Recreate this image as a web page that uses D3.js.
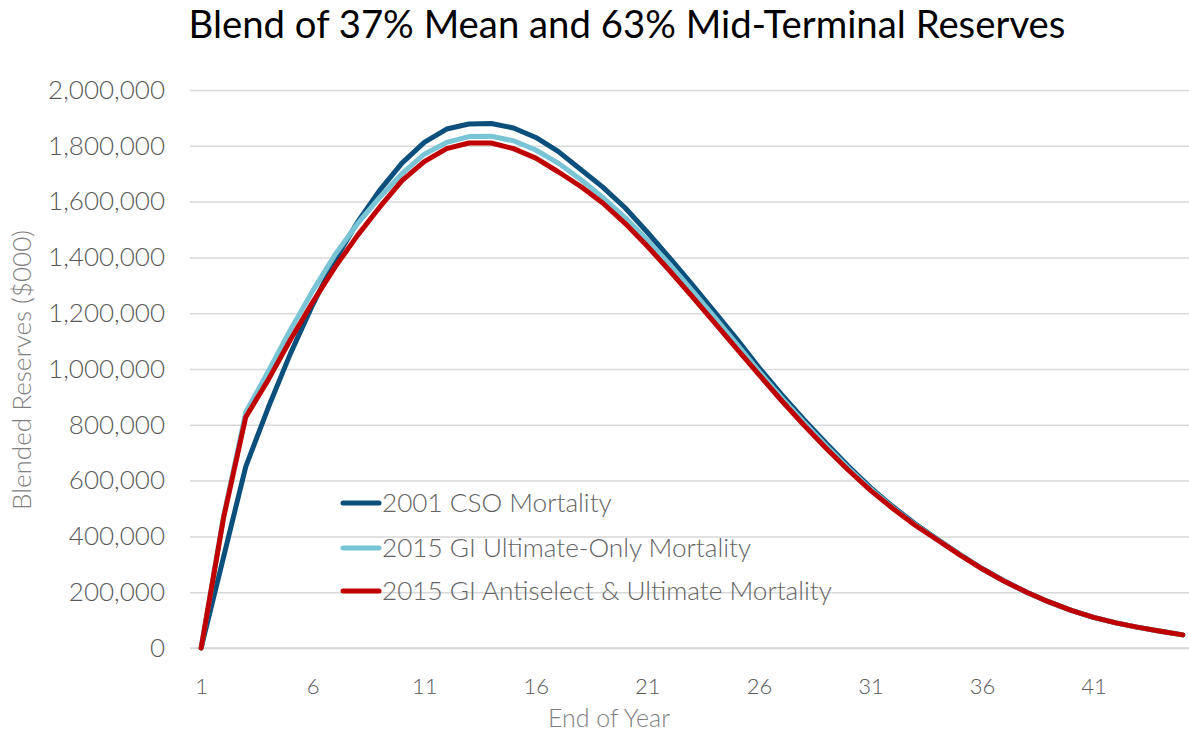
<!DOCTYPE html>
<html>
<head>
<meta charset="utf-8">
<script src="https://cdn.jsdelivr.net/npm/d3@7"></script>
<style>
  html, body { margin: 0; padding: 0; background: #fff; }
  svg { display: block; }
  text { font-family: Lato, "Open Sans", "Liberation Sans", sans-serif; }
</style>
</head>
<body>
<svg id="chart" width="1189" height="732"></svg>
<script>
// ---- Data (values in $000) ----
const years = d3.range(1, 46);
const seriesNames = ["2001 CSO Mortality", "2015 GI Ultimate-Only Mortality", "2015 GI Antiselect & Ultimate Mortality"];
const seriesColors = ["#0B4F7C", "#79C4D5", "#C00000"];
const cso2001 = [0, 325000, 650000, 860000, 1055000, 1230000, 1390000, 1525000, 1640000, 1738000,
  1812000, 1860000, 1878000, 1880000, 1864000, 1830000, 1780000, 1716000, 1652000, 1578000,
  1490000, 1398000, 1303000, 1206000, 1108000, 1005000, 910000, 820000, 735000, 652000,
  575000, 507000, 445000, 390000, 336000, 285000, 240000, 200000, 165000, 135000,
  110000, 90000, 74000, 60000, 47000];
const giUltimate = [0, 470000, 845000, 990000, 1140000, 1280000, 1410000, 1520000, 1615000, 1700000,
  1770000, 1812000, 1833000, 1834000, 1818000, 1785000, 1738000, 1680000, 1615000, 1543000,
  1462000, 1375000, 1282000, 1187000, 1090000, 992000, 898000, 810000, 726000, 645000,
  570000, 503000, 442000, 388000, 335000, 284000, 239000, 200000, 165000, 135000,
  110000, 90000, 74000, 60000, 47000];
const giAntiselect = [0, 465000, 828000, 960000, 1105000, 1240000, 1365000, 1478000, 1580000, 1675000,
  1743000, 1790000, 1810000, 1810000, 1790000, 1756000, 1707000, 1655000, 1595000, 1522000,
  1440000, 1352000, 1260000, 1167000, 1073000, 980000, 888000, 800000, 717000, 638000,
  565000, 500000, 440000, 387000, 334000, 284000, 239000, 200000, 165000, 135000,
  110000, 90000, 74000, 60000, 47000];
const yTicks = [0, 200000, 400000, 600000, 800000, 1000000, 1200000, 1400000, 1600000, 1800000, 2000000];
const xTicks = [1, 6, 11, 16, 21, 26, 31, 36, 41];
const titleText = "Blend of 37% Mean and 63% Mid-Terminal Reserves";
const yTitle = "Blended Reserves ($000)";
const xTitle = "End of Year";

const seriesData = [cso2001, giUltimate, giAntiselect];

// ---- Layout ----
const svg = d3.select("#chart");
const plot = { left: 190, right: 1194, top: 90, bottom: 648 };

const x = d3.scalePoint().domain(years).range([plot.left, plot.right]).padding(0.5);
const y = d3.scaleLinear().domain([0, 2000000]).range([plot.bottom, plot.top]);

function fitText(sel, targetWidth) {
  const node = sel.node();
  const fs = parseFloat(sel.attr("font-size"));
  const w = node.getComputedTextLength();
  if (w > 0) sel.attr("font-size", (fs * targetWidth / w).toFixed(2));
  return parseFloat(sel.attr("font-size"));
}

// Gridlines + y labels
const yAxis = d3.axisLeft(y).tickValues(yTicks).tickSize(-(1189 - plot.left)).tickPadding(25)
  .tickFormat(d3.format(","));
const gy = svg.append("g").attr("transform", `translate(${plot.left},0)`).call(yAxis);
gy.select(".domain").remove();
gy.selectAll(".tick line").attr("stroke", "#D9D9D9").attr("stroke-width", 1.5);
const yLabels = gy.selectAll(".tick text").attr("fill", "#595959").attr("font-size", 22)
  .attr("font-family", "Lato, 'Open Sans', sans-serif").attr("font-weight", 300);
const topLabel = yLabels.filter(d => d === 2000000);
const yfs = fitText(topLabel, 117);
yLabels.attr("font-size", yfs);

// X axis
const xAxis = d3.axisBottom(x).tickValues(xTicks).tickSize(0).tickPadding(30);
const gx = svg.append("g").attr("transform", `translate(0,${plot.bottom})`).call(xAxis);
gx.select(".domain").attr("stroke", "#D9D9D9").attr("stroke-width", 1.5)
  .attr("d", `M${plot.left},0H1189`);
gx.selectAll(".tick text").attr("fill", "#595959").attr("font-size", 22)
  .attr("font-family", "Lato, 'Open Sans', sans-serif").attr("font-weight", 300);

// Lines
const line = d3.line().x((d, i) => x(years[i])).y(d => y(d));
seriesData.forEach((s, k) => {
  svg.append("path").datum(s)
    .attr("fill", "none")
    .attr("stroke", seriesColors[k])
    .attr("stroke-width", 5)
    .attr("stroke-linejoin", "round")
    .attr("stroke-linecap", "round")
    .attr("d", line);
});

// Legend
const legendRows = [503, 548, 591];
const legendTexts = [];
seriesNames.forEach((name, k) => {
  const g = svg.append("g").attr("transform", `translate(0,${legendRows[k]})`);
  g.append("line").attr("x1", 343).attr("x2", 379).attr("y1", 0).attr("y2", 0)
    .attr("stroke", seriesColors[k]).attr("stroke-width", 5).attr("stroke-linecap", "round");
  legendTexts.push(g.append("text").attr("x", 382).attr("y", 0).attr("dy", "0.35em")
    .attr("fill", "#636363").attr("font-size", 23).attr("font-weight", 300)
    .text(name));
});
const lfs = fitText(legendTexts[2], 450);
legendTexts.forEach(t => t.attr("font-size", lfs));

// Title
const t = svg.append("text").attr("x", 627).attr("y", 38).attr("text-anchor", "middle")
  .attr("fill", "#000").attr("font-size", 36).attr("font-weight", 400)
  .text(titleText);
fitText(t, 877);

// Axis titles
const xt = svg.append("text").attr("x", 609).attr("y", 727).attr("text-anchor", "middle")
  .attr("fill", "#7F7F7F").attr("font-size", 22).attr("font-weight", 300)
  .text(xTitle);
fitText(xt, 122);
const yt = svg.append("text")
  .attr("transform", "translate(31,370) rotate(-90)")
  .attr("text-anchor", "middle")
  .attr("fill", "#7F7F7F").attr("font-size", 22).attr("font-weight", 300)
  .text(yTitle);
fitText(yt, 280);
</script>
</body>
</html>
